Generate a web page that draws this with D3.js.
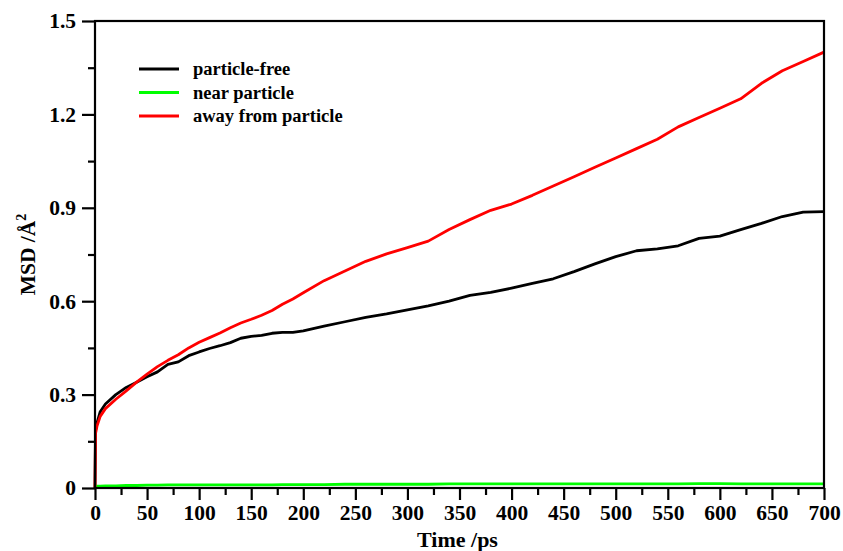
<!DOCTYPE html>
<html>
<head>
<meta charset="utf-8">
<script src="https://cdn.jsdelivr.net/npm/d3@7"></script>
<style>
  html, body { margin: 0; padding: 0; background: #fff; }
  svg { display: block; font-family: "Liberation Serif", "Times New Roman", serif; font-weight: bold; }
</style>
</head>
<body>
<svg id="chart" width="843" height="551"></svg>
<script>
// Time axis (ps)
const times = [0, 0.5, 2, 5, 10, 20, 30, 40, 50, 60, 70, 80, 90, 100, 110, 120, 130, 140, 150, 160, 170, 180, 190, 200,
  220, 240, 260, 280, 300, 320, 340, 360, 380, 400, 420, 440, 460, 480, 500, 520, 540, 560, 580, 600, 620, 640, 660, 680, 700];

// MSD (Å^2) for each region
const particleFree = [0, 0.185, 0.21, 0.245, 0.27, 0.3, 0.323, 0.34, 0.357, 0.373, 0.397, 0.405, 0.425, 0.437, 0.448, 0.457, 0.467, 0.481, 0.487, 0.49, 0.497, 0.5, 0.5, 0.505,
  0.52, 0.534, 0.548, 0.559, 0.572, 0.585, 0.6, 0.619, 0.628, 0.642, 0.657, 0.672, 0.695, 0.72, 0.743, 0.762, 0.768, 0.778, 0.802, 0.809, 0.83, 0.85, 0.872, 0.886, 0.888];
const nearParticle = [0, 0.005, 0.006, 0.006, 0.007, 0.007, 0.008, 0.008, 0.009, 0.009, 0.01, 0.01, 0.01, 0.01, 0.01, 0.01, 0.01, 0.01, 0.01, 0.01, 0.01, 0.011, 0.011, 0.011,
  0.011, 0.012, 0.012, 0.012, 0.012, 0.012, 0.013, 0.013, 0.013, 0.013, 0.013, 0.013, 0.013, 0.013, 0.013, 0.013, 0.013, 0.013, 0.014, 0.014, 0.013, 0.013, 0.013, 0.013, 0.013];
const awayFromParticle = [0, 0.175, 0.2, 0.23, 0.255, 0.285, 0.312, 0.34, 0.366, 0.39, 0.41, 0.428, 0.45, 0.468, 0.483, 0.498, 0.515, 0.53, 0.542, 0.555, 0.57, 0.59, 0.607, 0.627,
  0.666, 0.697, 0.728, 0.752, 0.772, 0.793, 0.83, 0.862, 0.892, 0.912, 0.94, 0.97, 1.0, 1.03, 1.06, 1.09, 1.12, 1.16, 1.19, 1.22, 1.25, 1.3, 1.34, 1.37, 1.4];

const seriesNames = ["particle-free", "near particle", "away from particle"];
const seriesColors = ["#000000", "#00ff00", "#ff0000"];
const seriesValues = [particleFree, nearParticle, awayFromParticle];

const xTicks = d3.range(0, 701, 50);
const xMinor = d3.range(25, 700, 50);
const yTicks = [0, 0.3, 0.6, 0.9, 1.2, 1.5];
const yMinor = [0.15, 0.45, 0.75, 1.05, 1.35];

const svg = d3.select("#chart");
const box = { left: 95, right: 824, top: 21, bottom: 488 };

const x = d3.scaleLinear().domain([0, 700]).range([box.left, box.right]);
const y = d3.scaleLinear().domain([0, 1.5]).range([box.bottom, box.top]);

// Data lines (drawn first so the frame sits on top)
const line = d3.line().x((d, i) => x(times[i])).y(d => y(d));
const plot = svg.append("g");
seriesValues.forEach((vals, k) => {
  plot.append("path")
    .datum(vals)
    .attr("fill", "none")
    .attr("stroke", seriesColors[k])
    .attr("stroke-width", 2.8)
    .attr("stroke-linejoin", "round")
    .attr("d", line);
});

// Frame
svg.append("rect")
  .attr("x", box.left).attr("y", box.top)
  .attr("width", box.right - box.left).attr("height", box.bottom - box.top)
  .attr("fill", "none").attr("stroke", "#000").attr("stroke-width", 2.2);

// X axis
const xAxis = svg.append("g").attr("transform", `translate(0,${box.bottom})`)
  .call(d3.axisBottom(x).tickValues(xTicks).tickSize(12).tickPadding(5).tickFormat(d3.format("d")));
const xAxisMinor = svg.append("g").attr("transform", `translate(0,${box.bottom})`)
  .call(d3.axisBottom(x).tickValues(xMinor).tickSize(7).tickFormat(""));

// Y axis
const yAxis = svg.append("g").attr("transform", `translate(${box.left},0)`)
  .call(d3.axisLeft(y).tickValues(yTicks).tickSize(13).tickPadding(6).tickFormat(d => d === 0 ? "0" : d3.format(".1f")(d)));
const yAxisMinor = svg.append("g").attr("transform", `translate(${box.left},0)`)
  .call(d3.axisLeft(y).tickValues(yMinor).tickSize(7).tickFormat(""));

[xAxis, xAxisMinor, yAxis, yAxisMinor].forEach(g => {
  g.select(".domain").remove();
  g.selectAll(".tick line").attr("stroke", "#000").attr("stroke-width", 2.2);
  g.selectAll(".tick text")
    .attr("fill", "#000")
    .style("font-family", "'Liberation Serif', 'Times New Roman', serif")
    .style("font-weight", "bold")
    .style("font-size", "21.5px");
});

// Axis titles
svg.append("text")
  .attr("x", (box.left + box.right) / 2 - 2).attr("y", 547)
  .attr("text-anchor", "middle")
  .style("font-size", "22px")
  .text("Time /ps");

const yTitle = svg.append("text")
  .attr("transform", `translate(35,${(box.top + box.bottom) / 2}) rotate(-90)`)
  .attr("text-anchor", "middle")
  .style("font-size", "21.5px");
yTitle.append("tspan").text("MSD /Å");
yTitle.append("tspan").attr("dy", -9).style("font-size", "14px").text("2");

// Legend
const legend = svg.append("g");
seriesNames.forEach((name, k) => {
  const ly = 69 + k * 23.5;
  legend.append("line")
    .attr("x1", 139).attr("x2", 179).attr("y1", ly).attr("y2", ly)
    .attr("stroke", seriesColors[k]).attr("stroke-width", 3);
  legend.append("text")
    .attr("x", 193).attr("y", ly + 6)
    .style("font-size", "18.5px")
    .text(name);
});
</script>
</body>
</html>
